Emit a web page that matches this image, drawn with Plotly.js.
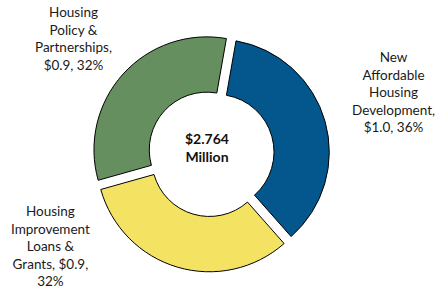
<!DOCTYPE html>
<html>
<head>
<meta charset="utf-8">
<script src="https://cdn.plot.ly/plotly-3.0.1.min.js"></script>
<style>html,body{margin:0;padding:0;background:#fff;}#chart{width:437px;height:291px;}</style>
</head>
<body>
<div id="chart"></div>
<script>
const categories = ["New Affordable Housing Development", "Housing Improvement Loans & Grants", "Housing Policy & Partnerships"];
const values = [1.0, 0.9, 0.9];
const valueLabels = ["$1.0", "$0.9", "$0.9"];
const percentLabels = ["36%", "32%", "32%"];
const labelLines = [
  ["New", "Affordable", "Housing", "Development,", "$1.0, 36%"],
  ["Housing", "Improvement", "Loans &", "Grants, $0.9,", "32%"],
  ["Housing", "Policy &", "Partnerships,", "$0.9, 32%"]
];
const colors = ["#03578C", "#668F5F", "#F4E263"];
const sliceColors = [colors[0], colors[2], colors[1]];
const centerLines = ["$2.764", "Million"];

const labelPos = [
  {x: 393, y: 92},
  {x: 50, y: 246},
  {x: 73, y: 39}
];
const W = 437, H = 291;

const trace = {
  type: "pie",
  labels: categories,
  values: values,
  sort: false,
  direction: "clockwise",
  rotation: 10,
  hole: 0.51,
  pull: [0.05, 0.05, 0.05],
  marker: {colors: sliceColors, line: {color: "#000000", width: 1}},
  textinfo: "none",
  hoverinfo: "none",
  domain: {x: [92/W, 330/W], y: [1 - 272/H, 1 - 35/H]}
};

const font = {family: "Lato, 'Open Sans', sans-serif", size: 13.5, color: "#1a1a1a"};
const annotations = labelLines.map((lines, i) => ({
  xref: "paper", yref: "paper",
  x: labelPos[i].x / W, y: 1 - labelPos[i].y / H,
  xanchor: "center", yanchor: "middle",
  text: lines.join("<br>"),
  showarrow: false, align: "center", font: font
}));
annotations.push({
  xref: "paper", yref: "paper",
  x: 207 / W, y: 1 - 147 / H,
  xanchor: "center", yanchor: "middle",
  text: "<b>" + centerLines.join("<br>") + "</b>",
  showarrow: false, align: "center",
  font: {family: "Lato, 'Open Sans', sans-serif", size: 14, color: "#111"}
});

Plotly.newPlot("chart", [trace], {
  width: W, height: H,
  margin: {l: 0, r: 0, t: 0, b: 0},
  showlegend: false,
  paper_bgcolor: "#ffffff",
  plot_bgcolor: "#ffffff",
  annotations: annotations
}, {staticPlot: true});
</script>
</body>
</html>
